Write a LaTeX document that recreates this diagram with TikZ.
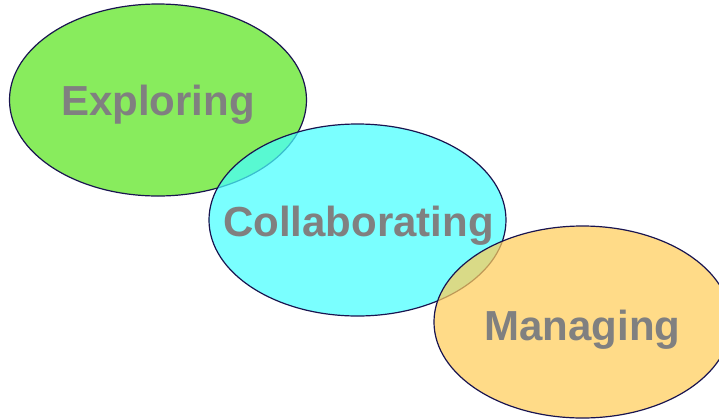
\documentclass[tikz,border=0pt]{standalone}
\usepackage{fontspec}
\setmainfont{Liberation Sans}
\usetikzlibrary{shapes.geometric}

\definecolor{exploregreen}{RGB}{90,228,30}
\definecolor{collabcyan}{RGB}{70,255,255}
\definecolor{manageorange}{RGB}{255,205,90}
\definecolor{rimblue}{RGB}{25,20,80}
\definecolor{wordgray}{RGB}{128,128,128}

\begin{document}
\begin{tikzpicture}[x=0.5pt,y=-0.5pt,
    blob/.style={ellipse,draw=rimblue,line width=0.6pt,fill opacity=0.72,
                 minimum width=148.5pt,minimum height=96pt,inner sep=0pt},
    word/.style={text=wordgray,font=\fontsize{21}{25}\selectfont\bfseries,inner sep=0pt,anchor=base}]
                \useasboundingbox (0,0) rectangle (719,419);
                \coordinate (E) at (158,100);
                \coordinate (C) at (357.5,220);
                \coordinate (M) at (582.5,322);
                \node [blob,fill=exploregreen] (explore) at (E) {};
                \node [blob,fill=collabcyan] (collab) at (C) {};
                \node [blob,fill=manageorange] (manage) at (M) {};
                \node [word] (exploretext) at ([yshift=-7.5pt]explore.center) {Exploring};
                \node [word] (collabtext) at ([xshift=0.5pt,yshift=-8pt]collab.center) {Collaborating};
                \node [word] (managetext) at ([yshift=-9pt]manage.center) {Managing};
            \end{tikzpicture}
\end{document}
